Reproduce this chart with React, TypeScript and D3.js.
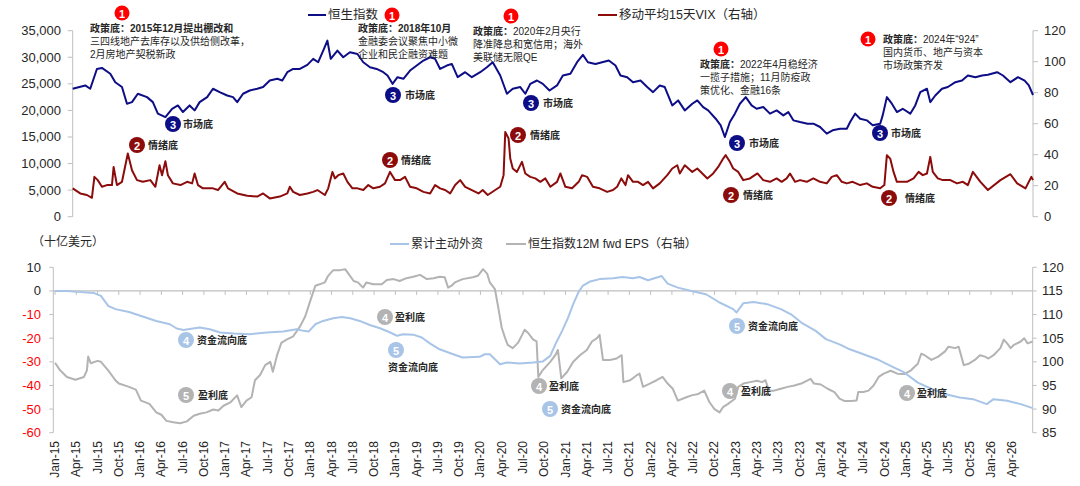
import React from "react";
import * as d3 from "d3";

// ---------- DATA (time = years since Jan 2015) ----------
const hsiT = [0, 0.15, 0.21, 0.29, 0.35, 0.45, 0.51, 0.59, 0.65, 0.71, 0.78, 0.89, 0.96, 1.02, 1.11, 1.19, 1.26, 1.32, 1.4, 1.46, 1.52, 1.61, 1.68, 1.76, 1.85, 1.92, 1.97, 2.04, 2.12, 2.21, 2.28, 2.36, 2.45, 2.51, 2.57, 2.64, 2.72, 2.81, 2.88, 2.94, 3.0, 3.05, 3.09, 3.17, 3.24, 3.32, 3.41, 3.48, 3.56, 3.64, 3.72, 3.77, 3.83, 3.89, 3.96, 4.04, 4.12, 4.2, 4.28, 4.34, 4.4, 4.48, 4.54, 4.61, 4.7, 4.78, 4.88, 4.96, 5.03, 5.12, 5.2, 5.27, 5.36, 5.42, 5.48, 5.56, 5.63, 5.71, 5.8, 5.87, 5.96, 6.04, 6.11, 6.17, 6.26, 6.34, 6.42, 6.5, 6.56, 6.64, 6.71, 6.8, 6.88, 6.95, 7.03, 7.09, 7.18, 7.25, 7.33, 7.42, 7.48, 7.55, 7.61, 7.7, 7.76, 7.81, 7.87, 7.93, 7.99, 8.06, 8.13, 8.19, 8.27, 8.35, 8.43, 8.51, 8.57, 8.63, 8.71, 8.8, 8.87, 8.95, 9.03, 9.1, 9.19, 9.27, 9.31, 9.37, 9.43, 9.51, 9.58, 9.67, 9.7, 9.75, 9.81, 9.87, 9.94, 10.03, 10.09, 10.15, 10.23, 10.27, 10.33, 10.41, 10.48, 10.57, 10.65, 10.72, 10.81, 10.89, 10.96, 11.07, 11.14, 11.23, 11.32, 11.4, 11.45, 11.5];
const hsiV = [24075, 24700, 24075, 27800, 28000, 26900, 25300, 24400, 21260, 21560, 23140, 22500, 21560, 19390, 18750, 20300, 20940, 19690, 20940, 20000, 21560, 22500, 24075, 23440, 22810, 22500, 21560, 23140, 23750, 24075, 24400, 25630, 25950, 25630, 27190, 27800, 27800, 28570, 29700, 29070, 31250, 33130, 29700, 31250, 30000, 30940, 30620, 29070, 28120, 27800, 27190, 26570, 25000, 26250, 25950, 27500, 28440, 29380, 30000, 29700, 27800, 28440, 28750, 26250, 27190, 26250, 27190, 28120, 29070, 26570, 23140, 24075, 24400, 23140, 25000, 25630, 25000, 23750, 24700, 26570, 26900, 29070, 30440, 29070, 28750, 29070, 29380, 28440, 26570, 26250, 25310, 25630, 24400, 23440, 24700, 24400, 20940, 21880, 20000, 21250, 21880, 20630, 20000, 18440, 17190, 15000, 17810, 19390, 21260, 22500, 20940, 20310, 20630, 19390, 20000, 19060, 19690, 18130, 17810, 17500, 17500, 16880, 15630, 16250, 16560, 16560, 17810, 19390, 18440, 18130, 17190, 17500, 19060, 22500, 21260, 19690, 20310, 19390, 20940, 23440, 24075, 21560, 22810, 24075, 24400, 25310, 25630, 26570, 26250, 26570, 26700, 27190, 26570, 25310, 26250, 25600, 24700, 22900];

const vixT = [0, 0.09, 0.17, 0.23, 0.26, 0.3, 0.35, 0.41, 0.47, 0.49, 0.53, 0.59, 0.66, 0.71, 0.77, 0.84, 0.93, 0.99, 1.04, 1.07, 1.11, 1.14, 1.2, 1.29, 1.37, 1.43, 1.46, 1.5, 1.56, 1.68, 1.74, 1.82, 1.86, 1.97, 2.09, 2.21, 2.28, 2.36, 2.48, 2.57, 2.6, 2.64, 2.72, 2.81, 2.88, 2.93, 3.02, 3.06, 3.11, 3.14, 3.18, 3.24, 3.29, 3.35, 3.41, 3.48, 3.54, 3.6, 3.68, 3.74, 3.8, 3.86, 3.92, 3.98, 4.04, 4.12, 4.2, 4.28, 4.34, 4.4, 4.46, 4.52, 4.58, 4.64, 4.7, 4.78, 4.86, 4.91, 4.97, 5.06, 5.12, 5.16, 5.18, 5.22, 5.24, 5.27, 5.32, 5.38, 5.42, 5.48, 5.54, 5.6, 5.66, 5.72, 5.8, 5.84, 5.9, 5.98, 6.06, 6.1, 6.16, 6.23, 6.31, 6.4, 6.47, 6.52, 6.57, 6.62, 6.65, 6.71, 6.77, 6.83, 6.89, 6.95, 7.03, 7.12, 7.18, 7.24, 7.27, 7.33, 7.42, 7.48, 7.54, 7.6, 7.67, 7.73, 7.79, 7.82, 7.87, 7.91, 7.97, 8.03, 8.11, 8.2, 8.27, 8.35, 8.43, 8.49, 8.55, 8.59, 8.65, 8.71, 8.79, 8.87, 8.95, 9.03, 9.09, 9.15, 9.21, 9.27, 9.34, 9.43, 9.51, 9.58, 9.67, 9.72, 9.75, 9.79, 9.83, 9.87, 9.93, 9.99, 10.07, 10.13, 10.18, 10.23, 10.27, 10.3, 10.36, 10.42, 10.51, 10.59, 10.66, 10.72, 10.78, 10.87, 10.96, 11.11, 11.23, 11.31, 11.41, 11.48, 11.5];
const vixV = [18.3, 15.0, 14.0, 12.2, 25.7, 23.6, 19.3, 20.4, 20.4, 32.1, 20.4, 22.5, 40.8, 30.0, 23.6, 22.5, 23.6, 19.3, 33.2, 26.8, 35.8, 26.8, 21.5, 20.4, 22.5, 21.5, 27.9, 20.4, 18.3, 18.3, 17.2, 22.5, 18.3, 15.0, 13.5, 13.0, 15.0, 11.8, 13.0, 15.0, 19.3, 16.0, 14.0, 15.0, 16.0, 17.2, 14.0, 18.3, 28.9, 24.7, 26.8, 27.9, 22.5, 18.3, 18.3, 17.2, 20.4, 18.3, 19.3, 21.5, 28.9, 23.6, 23.6, 25.7, 19.3, 18.3, 16.0, 15.0, 20.4, 18.3, 17.2, 15.0, 20.4, 23.6, 19.3, 17.2, 15.0, 17.2, 14.0, 17.2, 19.3, 26.8, 54.6, 50.4, 37.5, 31.1, 28.9, 35.4, 27.9, 25.7, 24.7, 22.5, 24.7, 19.3, 22.5, 27.9, 19.3, 18.3, 22.5, 26.8, 25.7, 19.3, 18.3, 16.0, 17.2, 19.3, 24.7, 20.4, 26.8, 22.5, 22.5, 20.4, 22.5, 18.3, 21.5, 26.8, 31.1, 33.2, 27.9, 33.2, 28.9, 31.1, 27.9, 24.7, 27.9, 32.1, 37.5, 39.7, 35.4, 31.1, 28.9, 23.6, 24.7, 27.9, 23.6, 22.5, 24.7, 22.5, 24.7, 27.9, 22.5, 23.6, 22.5, 24.7, 22.5, 21.5, 25.7, 26.8, 22.5, 21.5, 22.5, 20.4, 21.5, 19.3, 18.3, 20.4, 39.7, 37.5, 28.9, 22.5, 22.5, 22.5, 24.7, 28.9, 26.8, 27.9, 38.6, 28.9, 24.7, 23.6, 23.6, 21.5, 22.5, 20.4, 28.9, 22.5, 17.2, 23.6, 27.4, 21.5, 18.3, 25.7, 23.6];

const flowT = [0, 0.14, 0.26, 0.46, 0.54, 0.625, 0.71, 0.87, 1.03, 1.19, 1.35, 1.43, 1.51, 1.62, 1.7, 1.82, 1.94, 2.1, 2.29, 2.49, 2.68, 2.84, 2.92, 2.98, 3.06, 3.15, 3.27, 3.37, 3.47, 3.58, 3.7, 3.82, 3.94, 4.02, 4.09, 4.21, 4.31, 4.41, 4.52, 4.68, 4.79, 4.99, 5.05, 5.11, 5.17, 5.23, 5.31, 5.46, 5.62, 5.73, 5.82, 5.88, 5.96, 6.03, 6.09, 6.15, 6.2, 6.29, 6.4, 6.56, 6.67, 6.79, 6.87, 6.97, 7.13, 7.2, 7.32, 7.48, 7.65, 7.81, 7.97, 8.01, 8.09, 8.21, 8.37, 8.53, 8.65, 8.77, 8.94, 9.06, 9.22, 9.34, 9.5, 9.66, 9.82, 9.98, 10.14, 10.31, 10.47, 10.63, 10.79, 10.95, 11.03, 11.19, 11.35, 11.49];
const flowV = [0, 0, -0.4, -0.9, -2.1, -6.3, -7.7, -8.9, -10.8, -12.7, -14.1, -15.9, -16.5, -15.9, -15.5, -16.2, -17.6, -18.0, -18.3, -17.6, -17.2, -16.2, -16.9, -17.2, -14.1, -12.7, -11.6, -11.0, -11.6, -12.7, -14.4, -15.8, -17.6, -19.0, -18.3, -18.5, -19.7, -22.3, -24.7, -26.8, -28.2, -27.9, -26.8, -26.8, -28.9, -31.0, -30.3, -30.7, -30.3, -29.9, -27.5, -22.6, -16.9, -11.3, -5.6, -0.7, 2.1, 4.0, 5.0, 5.4, 5.9, 5.4, 5.9, 4.5, 6.3, 3.1, 1.4, 0, -1.4, -4.9, -7.7, -9.1, -5.2, -4.7, -5.6, -7.7, -9.9, -13.4, -16.9, -20.4, -22.6, -24.7, -26.8, -28.9, -31.7, -34.5, -38.8, -41.6, -43.7, -45.1, -45.8, -47.9, -45.8, -46.5, -47.9, -49.6];

const epsT = [0, 0.06, 0.14, 0.24, 0.34, 0.375, 0.39, 0.42, 0.5, 0.54, 0.625, 0.71, 0.75, 0.87, 0.95, 1.01, 1.11, 1.19, 1.25, 1.31, 1.39, 1.47, 1.55, 1.63, 1.7, 1.78, 1.86, 1.92, 1.98, 2.06, 2.14, 2.19, 2.25, 2.31, 2.35, 2.41, 2.47, 2.53, 2.56, 2.61, 2.66, 2.72, 2.8, 2.88, 2.94, 3.0, 3.06, 3.11, 3.17, 3.21, 3.27, 3.35, 3.41, 3.45, 3.51, 3.56, 3.62, 3.66, 3.74, 3.84, 3.9, 3.98, 4.05, 4.13, 4.21, 4.29, 4.37, 4.45, 4.52, 4.58, 4.62, 4.66, 4.7, 4.79, 4.91, 4.97, 5.03, 5.08, 5.11, 5.17, 5.21, 5.25, 5.29, 5.32, 5.38, 5.44, 5.49, 5.52, 5.56, 5.62, 5.66, 5.68, 5.73, 5.82, 5.88, 5.91, 5.95, 6.02, 6.09, 6.17, 6.25, 6.31, 6.37, 6.4, 6.44, 6.52, 6.6, 6.66, 6.68, 6.76, 6.84, 6.87, 6.91, 6.99, 7.07, 7.14, 7.2, 7.26, 7.32, 7.42, 7.48, 7.56, 7.63, 7.69, 7.75, 7.81, 7.85, 7.91, 7.99, 8.03, 8.09, 8.17, 8.25, 8.31, 8.35, 8.39, 8.45, 8.53, 8.61, 8.69, 8.77, 8.88, 8.92, 9.0, 9.08, 9.16, 9.22, 9.28, 9.36, 9.42, 9.44, 9.5, 9.56, 9.62, 9.68, 9.74, 9.82, 9.9, 9.98, 10.06, 10.14, 10.18, 10.22, 10.3, 10.38, 10.46, 10.5, 10.58, 10.62, 10.68, 10.74, 10.81, 10.87, 10.93, 10.97, 11.03, 11.11, 11.15, 11.19, 11.23, 11.27, 11.35, 11.39, 11.43, 11.49];
const epsV = [99.8, 98.2, 96.8, 96.2, 96.8, 98.2, 101.1, 99.7, 100.2, 100.0, 98.2, 96.1, 95.4, 94.7, 94.1, 91.8, 91.1, 89.3, 88.8, 87.5, 87.2, 87.0, 87.4, 88.6, 89.0, 89.3, 89.9, 89.7, 90.7, 91.4, 92.9, 90.4, 91.8, 92.5, 96.1, 97.2, 99.3, 100.0, 97.9, 101.4, 104.0, 104.7, 105.4, 107.5, 109.6, 112.9, 116.1, 116.4, 116.8, 118.2, 119.4, 119.4, 119.6, 118.6, 117.1, 116.8, 115.7, 116.8, 116.4, 116.4, 117.3, 117.5, 117.1, 117.7, 118.0, 118.4, 117.5, 117.7, 118.0, 117.9, 115.7, 116.1, 116.8, 117.5, 117.9, 118.2, 119.6, 118.6, 116.8, 115.4, 111.4, 107.2, 105.0, 103.6, 102.9, 104.0, 105.7, 106.8, 106.1, 104.7, 104.3, 96.8, 98.2, 100.0, 101.4, 102.5, 96.5, 97.9, 100.0, 101.4, 102.5, 104.3, 105.0, 105.7, 100.4, 100.4, 100.7, 101.4, 95.7, 96.1, 97.2, 97.5, 94.7, 95.4, 96.1, 96.8, 95.4, 94.3, 91.8, 92.5, 92.9, 93.2, 93.9, 91.5, 90.0, 89.3, 90.4, 91.1, 92.2, 94.7, 95.4, 95.7, 96.0, 95.7, 96.1, 93.9, 93.9, 94.3, 94.7, 95.0, 95.4, 96.4, 95.4, 95.2, 94.3, 93.6, 92.2, 91.7, 91.7, 91.8, 93.6, 93.6, 93.9, 95.0, 96.8, 97.5, 98.1, 97.5, 97.4, 98.2, 99.6, 101.7, 101.4, 100.4, 101.1, 102.2, 103.2, 102.9, 103.2, 99.3, 99.6, 100.4, 101.4, 101.1, 100.7, 101.4, 102.9, 104.7, 103.9, 102.9, 103.6, 104.3, 105.0, 103.9, 104.3];

const topLeftTicks = [0, 5000, 10000, 15000, 20000, 25000, 30000, 35000];
const topRightTicks = [0, 20, 40, 60, 80, 100, 120];
const botLeftTicks = [-60, -50, -40, -30, -20, -10, 0, 10];
const botRightTicks = [85, 90, 95, 100, 105, 110, 115, 120];
const monthNames = ["Jan", "Apr", "Jul", "Oct"];
const yearLabels = ["15", "16", "17", "18", "19", "20", "21", "22", "23", "24", "25", "26"];
const xTickLabels: string[] = [];
yearLabels.forEach((y) => monthNames.forEach((m) => xTickLabels.push(`${m}-${y}`)));
xTickLabels.splice(46); // Jan-15 .. Apr-26

// ---------- annotations ----------
const policyNotes = [
  { n: "1", cx: 122, cy: 13, x: 90, y: 28, lines: ["政策底：2015年12月提出棚改和", "三四线地产去库存以及供给侧改革，", "2月房地产契税新政"], bold: "all" },
  { n: "1", cx: 392, cy: 15, x: 358, y: 28, lines: ["政策底：2018年10月", "金融委会议聚焦中小微", "企业和民企融资难题"], bold: "all" },
  { n: "1", cx: 511, cy: 16, x: 473, y: 31, lines: ["政策底：2020年2月央行", "降准降息和宽信用；海外", "美联储无限QE"], bold: "prefix" },
  { n: "1", cx: 721, cy: 49, x: 700, y: 64, lines: ["政策底：2022年4月稳经济", "一揽子措施；11月防疫政", "策优化、金融16条"], bold: "prefix" },
  { n: "1", cx: 868, cy: 39, x: 883, y: 39, lines: ["政策底：2024年“924”", "国内货币、地产与资本", "市场政策齐发"], bold: "prefix" },
];
const marketBottoms = [
  { cx: 173, cy: 124, tx: 183 }, { cx: 393, cy: 95, tx: 405 }, { cx: 531, cy: 103, tx: 543 },
  { cx: 737, cy: 143, tx: 749 }, { cx: 880, cy: 133, tx: 891 },
];
const moodBottoms = [
  { cx: 137, cy: 145, tx: 148 }, { cx: 390, cy: 160, tx: 401 }, { cx: 518, cy: 135, tx: 530 },
  { cx: 731, cy: 195, tx: 743 }, { cx: 889, cy: 198, tx: 905 },
];
const botNotes = [
  { n: "4", kind: "flow", cx: 186, cy: 340, tx: 197, ty: 340, text: "资金流向底" },
  { n: "4", kind: "eps", cx: 385, cy: 317, tx: 395, ty: 317, text: "盈利底" },
  { n: "5", kind: "flow", cx: 396, cy: 350, tx: 388, ty: 367, text: "资金流向底" },
  { n: "5", kind: "eps", cx: 186, cy: 395, tx: 198, ty: 395, text: "盈利底" },
  { n: "4", kind: "eps", cx: 539, cy: 386, tx: 549, ty: 386, text: "盈利底" },
  { n: "5", kind: "flow", cx: 550, cy: 409, tx: 561, ty: 409, text: "资金流向底" },
  { n: "5", kind: "flow", cx: 737, cy: 326, tx: 748, ty: 326, text: "资金流向底" },
  { n: "4", kind: "eps", cx: 730, cy: 391, tx: 741, ty: 391, text: "盈利底" },
  { n: "4", kind: "eps", cx: 907, cy: 393, tx: 917, ty: 393, text: "盈利底" },
];

const FONT = "'Liberation Sans', Arial, 'Noto Sans CJK SC', sans-serif";
const NAVY = "#0d0d86";
const DRED = "#8c0c0c";
const RED = "#ff0000";
const LBLUE = "#a8c4e7";
const GRAY = "#b3b3b3";
const AXIS = "#bfbfbf";
const TXT = "#262626";

function Badge({ cx, cy, r, fill, n }: { cx: number; cy: number; r: number; fill: string; n: string }) {
  return (
    <g>
      <circle cx={cx} cy={cy} r={r} fill={fill} />
      <text x={cx} y={cy + 0.5} fill="#fff" fontSize={11} fontWeight="bold" textAnchor="middle" dominantBaseline="central" fontFamily={FONT}>
        {n}
      </text>
    </g>
  );
}

export default function App() {
  const xTop = d3.scaleLinear().domain([0, 11.5]).range([72.7, 1033]);
  const yTopL = d3.scaleLinear().domain([0, 35000]).range([216.7, 30.7]);
  const yTopR = d3.scaleLinear().domain([0, 120]).range([216.7, 30.7]);
  const xBot = d3.scaleLinear().domain([-0.02, 11.49]).range([53.3, 1032.7]);
  const yBotL = d3.scaleLinear().domain([-60, 10]).range([432.7, 267.3]);
  const yBotR = d3.scaleLinear().domain([85, 120]).range([432.7, 267.3]);

  const hsiPath = d3.line<number>().x((_, i) => xTop(hsiT[i])).y((d) => yTopL(d))(hsiV) || "";
  const vixPath = d3.line<number>().x((_, i) => xTop(vixT[i])).y((d) => yTopR(d))(vixV) || "";
  const flowPath = d3.line<number>().x((_, i) => xBot(flowT[i])).y((d) => yBotL(d))(flowV) || "";
  const epsPath = d3.line<number>().x((_, i) => xBot(epsT[i])).y((d) => yBotR(d))(epsV) || "";
  const fmt = d3.format(",");
  const y0 = yBotL(0);
  const [bx0, bx1] = xBot.range();

  return (
    <svg width={1080} height={486} style={{ position: "absolute", left: 0, top: 0, background: "#fff" }} fontFamily={FONT}>
      <rect width={1080} height={486} fill="#fff" />
      {/* ===== TOP CHART ===== */}
      <line x1={xTop(0)} x2={xTop(0)} y1={yTopL(0)} y2={yTopL(35000)} stroke={AXIS} />
      {topLeftTicks.map((t) => (
        <g key={"tl" + t}>
          <line x1={xTop(0) - 5} x2={xTop(0)} y1={yTopL(t)} y2={yTopL(t)} stroke={AXIS} />
          <text x={61} y={yTopL(t)} textAnchor="end" dominantBaseline="central" fontSize={13} fill={TXT}>{fmt(t)}</text>
        </g>
      ))}
      <line x1={xTop(11.5)} x2={xTop(11.5)} y1={yTopR(0)} y2={yTopR(120)} stroke={AXIS} />
      {topRightTicks.map((t) => (
        <g key={"tr" + t}>
          <line x1={xTop(11.5)} x2={xTop(11.5) + 5} y1={yTopR(t)} y2={yTopR(t)} stroke={AXIS} />
          <text x={1044} y={yTopR(t)} textAnchor="start" dominantBaseline="central" fontSize={13} fill={TXT}>{t}</text>
        </g>
      ))}
      <path d={vixPath} fill="none" stroke={DRED} strokeWidth={2} strokeLinejoin="round" />
      <path d={hsiPath} fill="none" stroke={NAVY} strokeWidth={2} strokeLinejoin="round" />

      {/* top legend */}
      <line x1={308} x2={326} y1={15} y2={15} stroke={NAVY} strokeWidth={2} />
      <text x={328} y={15} dominantBaseline="central" fontSize={12.5} fill={TXT}>恒生指数</text>
      <line x1={598} x2={617} y1={15} y2={15} stroke={DRED} strokeWidth={2} />
      <text x={619} y={15} dominantBaseline="central" fontSize={12.5} fill={TXT}>移动平均15天VIX（右轴）</text>

      {/* policy notes */}
      {policyNotes.map((p, i) => (
        <g key={"pn" + i}>
          <Badge cx={p.cx} cy={p.cy} r={7.5} fill={RED} n={p.n} />
          {p.lines.map((l, j) => (
            <text key={j} x={p.x} y={p.y + j * 13.2} dominantBaseline="central" fontSize={10} fill={TXT}>
              {j === 0 && p.bold === "all" ? (
                <tspan fontWeight="bold">{l}</tspan>
              ) : j === 0 ? (
                <>
                  <tspan fontWeight="bold">{l.slice(0, 4)}</tspan>
                  <tspan>{l.slice(4)}</tspan>
                </>
              ) : (
                l
              )}
            </text>
          ))}
        </g>
      ))}
      {marketBottoms.map((m, i) => (
        <g key={"mb" + i}>
          <Badge cx={m.cx} cy={m.cy} r={8} fill={NAVY} n="3" />
          <text x={m.tx} y={m.cy} dominantBaseline="central" fontSize={10} fontWeight="bold" fill={TXT}>市场底</text>
        </g>
      ))}
      {moodBottoms.map((m, i) => (
        <g key={"md" + i}>
          <Badge cx={m.cx} cy={m.cy} r={8} fill={DRED} n="2" />
          <text x={m.tx} y={m.cy} dominantBaseline="central" fontSize={10} fontWeight="bold" fill={TXT}>情绪底</text>
        </g>
      ))}

      {/* ===== BOTTOM CHART ===== */}
      <text x={32} y={242} dominantBaseline="central" fontSize={12} fill={TXT}>（十亿美元）</text>
      <line x1={390} x2={409} y1={244} y2={244} stroke={LBLUE} strokeWidth={2} />
      <text x={411} y={244} dominantBaseline="central" fontSize={12} fill={TXT}>累计主动外资</text>
      <line x1={506} x2={526} y1={244} y2={244} stroke={GRAY} strokeWidth={2} />
      <text x={528} y={244} dominantBaseline="central" fontSize={12} fill={TXT}>恒生指数12M fwd EPS（右轴）</text>

      <line x1={bx0} x2={bx0} y1={yBotL(-60)} y2={yBotL(10)} stroke={AXIS} />
      {botLeftTicks.map((t) => (
        <g key={"bl" + t}>
          <line x1={bx0 - 4} x2={bx0} y1={yBotL(t)} y2={yBotL(t)} stroke={AXIS} />
          <text x={41} y={yBotL(t)} textAnchor="end" dominantBaseline="central" fontSize={13} fill={t < 0 ? "#ff0000" : TXT}>{t}</text>
        </g>
      ))}
      <line x1={bx1} x2={bx1} y1={yBotR(85)} y2={yBotR(120)} stroke={AXIS} />
      {botRightTicks.map((t) => (
        <g key={"br" + t}>
          <line x1={bx1} x2={bx1 + 4} y1={yBotR(t)} y2={yBotR(t)} stroke={AXIS} />
          <text x={1042} y={yBotR(t)} textAnchor="start" dominantBaseline="central" fontSize={13} fill={TXT}>{t}</text>
        </g>
      ))}
      <line x1={bx0} x2={bx1} y1={y0} y2={y0} stroke={AXIS} strokeWidth={1.2} />
      {xTickLabels.map((lab, k) => {
        const x = xBot(k * 0.25);
        return (
          <g key={lab}>
            <line x1={x} x2={x} y1={y0} y2={y0 + 4} stroke={AXIS} />
            <text transform={`translate(${x},441) rotate(-90)`} textAnchor="end" dominantBaseline="central" fontSize={12} fill={TXT}>{lab}</text>
          </g>
        );
      })}
      <path d={epsPath} fill="none" stroke={GRAY} strokeWidth={2} strokeLinejoin="round" />
      <path d={flowPath} fill="none" stroke={LBLUE} strokeWidth={2} strokeLinejoin="round" />

      {botNotes.map((b, i) => (
        <g key={"bn" + i}>
          <Badge cx={b.cx} cy={b.cy} r={8} fill={b.kind === "flow" ? LBLUE : GRAY} n={b.n} />
          <text x={b.tx} y={b.ty} dominantBaseline="central" fontSize={10} fontWeight="bold" fill={TXT}>{b.text}</text>
        </g>
      ))}
    </svg>
  );
}
